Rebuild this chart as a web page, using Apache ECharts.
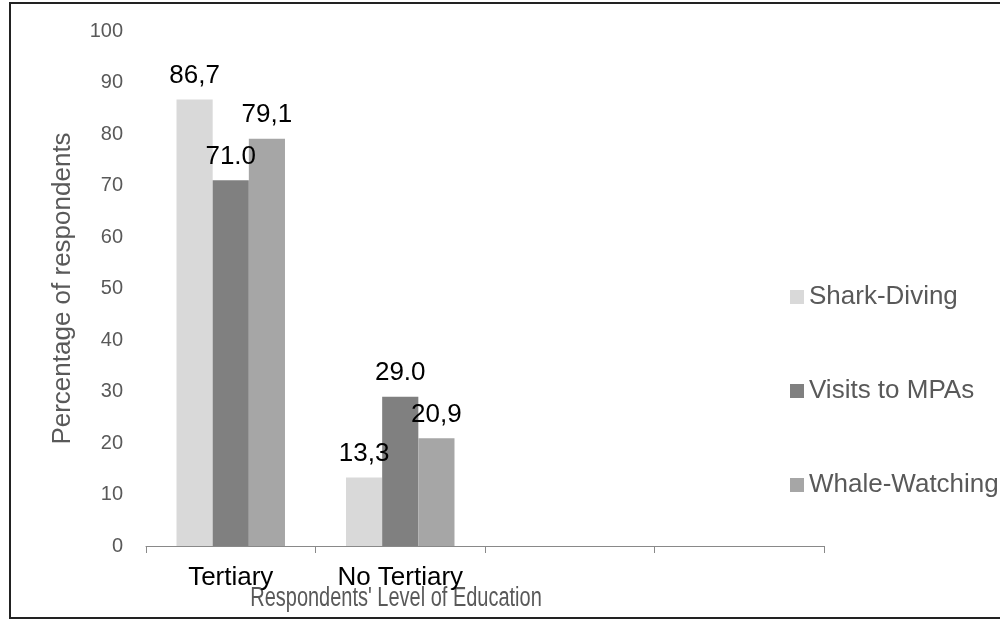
<!DOCTYPE html>
<html>
<head>
<meta charset="utf-8">
<script src="https://cdn.jsdelivr.net/npm/echarts@6/dist/echarts.min.js"></script>
<style>
  html, body { margin: 0; padding: 0; background: #fff; }
  #chart { width: 1000px; height: 620px; }
</style>
</head>
<body>
<div id="chart"></div>
<script>
// categories on the x axis (the last two are empty slots in the original)
var categories = ['Tertiary', 'No Tertiary', '', ''];
var seriesNames = ['Shark-Diving', 'Visits to MPAs', 'Whale-Watching'];
var sharkDiving = [86.7, 13.3, null, null];
var visitsMPA = [71.0, 29.0, null, null];
var whaleWatching = [79.1, 20.9, null, null];
// label text as printed in the picture (mixed decimal marks)
var sharkLabels = ['86,7', '13,3'];
var mpaLabels = ['71.0', '29.0'];
var whaleLabels = ['79,1', '20,9'];
var yTicks = [0, 100, 10];

var font = 'Liberation Sans, Arial, sans-serif';
var chart = echarts.init(document.getElementById('chart'));

function barSeries(name, data, labels, color) {
    return {
        name: name,
        type: 'bar',
        data: data,
        barGap: '0%',
        barCategoryGap: '36%',
        itemStyle: { color: color },
        label: {
            show: true,
            position: 'top',
            distance: 11,
            fontSize: 26,
            fontFamily: font,
            color: '#000',
            formatter: function (p) { return labels[p.dataIndex] || ''; }
        }
    };
}

chart.setOption({
    animation: false,
    textStyle: { fontFamily: font },
    grid: { left: 146, right: 176, top: 31, bottom: 74 },
    legend: {
        orient: 'vertical',
        left: 785,
        top: 279,
        icon: 'rect',
        itemWidth: 14,
        itemHeight: 14,
        itemGap: 68,
        textStyle: { fontSize: 26, color: '#595959', fontFamily: font },
        data: seriesNames
    },
    xAxis: {
        type: 'category',
        data: categories,
        axisLine: { lineStyle: { color: '#898989', width: 1 } },
        axisTick: { show: true, length: 7, lineStyle: { color: '#898989' } },
        axisLabel: { color: '#000', fontSize: 26, margin: 19, fontFamily: font }
    },
    yAxis: {
        type: 'value',
        min: yTicks[0],
        max: yTicks[1],
        interval: yTicks[2],
        name: 'Percentage of respondents',
        nameLocation: 'middle',
        nameGap: 70,
        nameTextStyle: { fontSize: 26, color: '#595959', fontFamily: font },
        splitLine: { show: false },
        axisLine: { show: false },
        axisTick: { show: false },
        axisLabel: { color: '#595959', fontSize: 20, margin: 23, fontFamily: font }
    },
    graphic: [
        {
            type: 'rect',
            shape: { x: 10, y: 3, width: 1000, height: 615 },
            style: { fill: 'none', stroke: '#222', lineWidth: 2 }
        },
        {
            type: 'text',
            x: 396,
            y: 599,
            scaleX: 0.74,
            style: {
                text: "Respondents' Level of Education",
                font: '27px Liberation Sans, Arial, sans-serif',
                fill: '#595959',
                align: 'center',
                verticalAlign: 'middle'
            }
        }
    ],
    series: [
        barSeries(seriesNames[0], sharkDiving, sharkLabels, '#d9d9d9'),
        barSeries(seriesNames[1], visitsMPA, mpaLabels, '#808080'),
        barSeries(seriesNames[2], whaleWatching, whaleLabels, '#a6a6a6')
    ]
});
</script>
</body>
</html>
